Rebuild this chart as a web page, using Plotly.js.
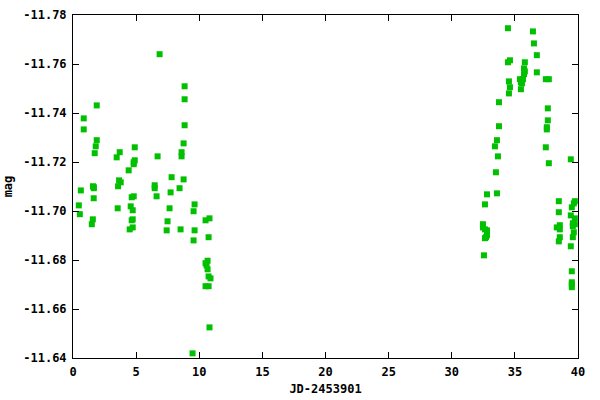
<!DOCTYPE html>
<html>
<head>
<meta charset="utf-8">
<script src="https://cdn.plot.ly/plotly-3.0.1.min.js"></script>
<style>html,body{margin:0;padding:0;background:#fff;}#chart{width:600px;height:400px;}</style>
</head>
<body>
<div id="chart"></div>
<script>
// JD - 2453901
const jd = [
  0.46, 0.54, 0.62, 0.85, 0.85, 1.49, 1.57, 1.64, 1.58, 1.64, 1.65, 1.72, 1.80, 1.88, 1.88,
  3.46, 3.54, 3.57, 3.65, 3.78, 3.70,
  4.41, 4.49, 4.57, 4.65, 4.81, 4.73, 4.65, 4.73, 4.73, 4.81, 4.81, 4.89, 4.89,
  6.47, 6.47, 6.62, 6.70, 6.86,
  7.42, 7.49, 7.65, 7.73, 7.81,
  8.44, 8.52, 8.60, 8.60, 8.76, 8.76, 8.84, 8.84, 8.84,
  9.47, 9.55, 9.55, 9.63, 9.63,
  10.50, 10.81, 10.74, 10.50, 10.66, 10.58, 10.66, 10.74, 10.89, 10.50, 10.74, 10.81,
  32.47, 32.47, 32.63, 32.79, 32.79, 32.71, 32.63, 32.55, 32.63, 32.79,
  33.58, 33.50, 33.66, 33.42, 33.58, 33.74, 33.74,
  34.45, 34.61, 34.45, 34.53, 34.61, 34.53,
  35.40, 35.64, 35.48, 35.56, 35.48, 35.72, 35.79, 35.72, 35.79,
  36.43, 36.51, 36.74, 36.74,
  37.45, 37.69, 37.61, 37.61, 37.53, 37.53, 37.45, 37.69,
  39.43, 38.48, 38.48, 38.56, 38.32, 38.56, 38.56, 38.48,
  39.75, 39.67, 39.51, 39.43, 39.75, 39.59, 39.75, 39.59, 39.67, 39.59, 39.43,
  39.51, 39.51, 39.51, 39.51
];
const mag = [
  -11.7023, -11.6987, -11.7084, -11.7378, -11.7333, -11.6946, -11.6966, -11.7052, -11.7101, -11.7098, -11.7093, -11.7236, -11.7264, -11.7289, -11.7431,
  -11.7219, -11.7011, -11.7101, -11.7125, -11.7117, -11.7240,
  -11.7166, -11.6925, -11.7019, -11.7056, -11.7060, -11.7003, -11.6962, -11.6966, -11.6933, -11.7191, -11.7199, -11.7207, -11.7260,
  -11.7105, -11.7093, -11.7060, -11.7223, -11.7640,
  -11.6921, -11.6958, -11.7011, -11.7076, -11.7138,
  -11.7093, -11.6925, -11.7240, -11.7223, -11.7276, -11.7129, -11.7350, -11.7456, -11.7509,
  -11.6419, -11.6999, -11.6880, -11.7027, -11.6921,
  -11.6962, -11.6970, -11.6893, -11.6787, -11.6797, -11.6778, -11.6762, -11.6733, -11.6725, -11.6693, -11.6693, -11.6525,
  -11.6946, -11.6933, -11.6925, -11.6921, -11.6901, -11.6893, -11.6889, -11.6819, -11.7027, -11.7068,
  -11.7072, -11.7158, -11.7223, -11.7264, -11.7289, -11.7346, -11.7444,
  -11.7746, -11.7615, -11.7607, -11.7529, -11.7505, -11.7480,
  -11.7538, -11.7538, -11.7525, -11.7521, -11.7497, -11.7582, -11.7570, -11.7558, -11.7607,
  -11.7733, -11.7684, -11.7636, -11.7566,
  -11.7538, -11.7538, -11.7419, -11.7370, -11.7342, -11.7333, -11.7260, -11.7195,
  -11.7211, -11.7040, -11.6995, -11.6942, -11.6933, -11.6925, -11.6893, -11.6876,
  -11.7040, -11.7031, -11.7015, -11.6982, -11.6970, -11.6950, -11.6946, -11.6938, -11.6913, -11.6893, -11.6856,
  -11.6754, -11.6709, -11.6701, -11.6689
];
const xTickVals = [0, 5, 10, 15, 20, 25, 30, 35, 40];
const xTickText = ["0", "5", "10", "15", "20", "25", "30", "35", "40"];
const yTickVals = [-11.78, -11.76, -11.74, -11.72, -11.70, -11.68, -11.66, -11.64];
const yTickText = ["-11.78", "-11.76", "-11.74", "-11.72", "-11.70", "-11.68", "-11.66", "-11.64"];

const font = {family: "'DejaVu Sans Mono', 'Liberation Mono', monospace", size: 12, color: "#000", weight: "bold"};

const trace = {
  x: jd, y: mag, type: "scatter", mode: "markers",
  marker: {symbol: "square", size: 6, color: "#00c000", line: {width: 0}},
  cliponaxis: false, hoverinfo: "none"
};

const layout = {
  width: 600, height: 400,
  margin: {l: 72.5, r: 21.5, t: 15, b: 42, pad: 0},
  paper_bgcolor: "#fff", plot_bgcolor: "#fff",
  font: font,
  showlegend: false,
  xaxis: {
    range: [0, 40], tickvals: xTickVals, ticktext: xTickText,
    ticks: "inside", ticklen: 6, tickwidth: 1, tickcolor: "#000",
    showline: true, linecolor: "#000", linewidth: 1, mirror: "ticks",
    showgrid: false, zeroline: false, tickfont: font, ticklabelstandoff: 3,
    title: {text: "JD-2453901", font: font, standoff: 6}
  },
  yaxis: {
    range: [-11.64, -11.78], tickvals: yTickVals, ticktext: yTickText,
    ticks: "inside", ticklen: 6, tickwidth: 1, tickcolor: "#000",
    showline: true, linecolor: "#000", linewidth: 1, mirror: "ticks",
    showgrid: false, zeroline: false, tickfont: font, ticklabelstandoff: 3,
    title: {text: "mag", font: font, standoff: 8}
  }
};

Plotly.newPlot("chart", [trace], layout, {staticPlot: true, displayModeBar: false});
</script>
</body>
</html>
